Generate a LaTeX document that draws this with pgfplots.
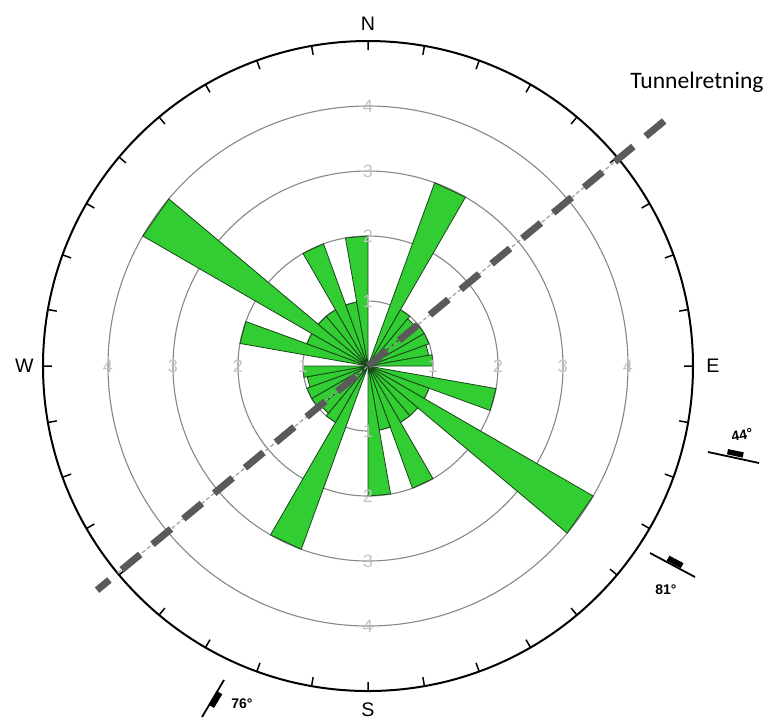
\documentclass[border=0pt]{standalone}
\usepackage{pgfplots}
\pgfplotsset{compat=1.18}
\usepgfplotslibrary{polar}
\usepackage{fontspec}
\setmainfont{Liberation Sans}
\newfontfamily\calib{Carlito}

\definecolor{petal}{RGB}{50,205,50}
\definecolor{petaledge}{RGB}{25,70,25}
\definecolor{ringgray}{RGB}{135,135,135}
\definecolor{ringlabel}{RGB}{195,195,195}
\definecolor{tunnel}{RGB}{90,90,90}

% one petal of the rose: angles are mathematical (ccw from east), radius = count
\newcommand{\petal}[3]{\addplot[fill=petal, draw=petaledge, line width=0.4pt]
  coordinates {(0,0) (#1,#3) (#2,#3)} -- cycle;}
\newcommand{\rl}[2]{\node[ringlabel, font=\fontsize{9}{10}\selectfont, inner sep=0pt] at (axis cs:#1,#2) {#2};}

\begin{document}
\begin{tikzpicture}[x=1pt,y=1pt]
\begin{polaraxis}[
  at={(0,0)}, anchor=center,
  scale only axis, width=325pt, height=325pt,
  ymin=0, ymax=5,
  xtick={0,10,...,350}, xticklabels={},
  ytick={1,2,3,4}, yticklabels={},
  xmajorgrids=false, ymajorgrids=true,
  y grid style={ringgray, line width=0.55pt},
  axis line style={black, line width=1pt},
  y axis line style={draw=none},
  tick align=outside, major tick length=4.5pt,
  x tick style={black, line width=0.75pt},
  y tick style={draw=none},
  clip=false,
]
% directions in compass degrees c..c+10 become 90-c .. 80-c
% NE - SW
\petal{70}{60}{3.0}
\petal{60}{50}{1.0}
\petal{50}{40}{0.95}
\petal{40}{30}{1.0}
\petal{30}{20}{1.0}
\petal{20}{10}{0.95}
\petal{10}{0}{1.0}
% ESE - S
\petal{-10}{-20}{2.0}
\petal{-20}{-30}{1.0}
\petal{-30}{-40}{4.0}
\petal{-40}{-50}{1.0}
\petal{-50}{-60}{1.0}
\petal{-60}{-70}{2.0}
\petal{-70}{-80}{1.0}
\petal{-80}{-90}{2.0}
% SSW - W
\petal{-110}{-120}{3.0}
\petal{-120}{-130}{1.0}
\petal{-130}{-140}{0.95}
\petal{-140}{-150}{1.0}
\petal{-150}{-160}{1.0}
\petal{-160}{-170}{0.95}
\petal{-170}{-180}{1.0}
% WNW - N
\petal{-190}{-200}{2.0}
\petal{-200}{-210}{1.0}
\petal{-210}{-220}{4.0}
\petal{-220}{-230}{1.0}
\petal{-230}{-240}{1.0}
\petal{-240}{-250}{2.0}
\petal{-250}{-260}{1.0}
\petal{-260}{-270}{2.0}

% tunnel direction (N50E)
\addplot[ringgray!80, line width=0.6pt, dash pattern=on 2pt off 1.2pt]
  coordinates {(219.6,5) (0,0) (39.6,5)};
\addplot[tunnel, line width=3.5pt, dash pattern=on 12pt off 8pt, dash phase=4pt]
  coordinates {(219.6,5.41) (0,0) (39.6,5.99)};

% ring labels
\rl{0}{1}\rl{0}{2}\rl{0}{3}\rl{0}{4}
\rl{90}{1}\rl{90}{2}\rl{90}{3}\rl{90}{4}
\rl{180}{1}\rl{180}{2}\rl{180}{3}\rl{180}{4}
\rl{270}{1}\rl{270}{2}\rl{270}{3}\rl{270}{4}
% compass labels
\node[font=\fontsize{9.8}{11}\selectfont, anchor=south, inner sep=0pt, yshift=5pt] at (axis cs:90,5) {N};
\node[font=\fontsize{9.8}{11}\selectfont, anchor=north, inner sep=0pt, yshift=-5.5pt] at (axis cs:270,5) {S};
\node[font=\fontsize{9.8}{11}\selectfont, anchor=west, inner sep=0pt, xshift=6.5pt] at (axis cs:0,5) {E};
\node[font=\fontsize{9.8}{11}\selectfont, anchor=east, inner sep=0pt, xshift=-4.5pt] at (axis cs:180,5) {W};
\end{polaraxis}

% label of the tunnel line
\node[font=\calib\fontsize{11.8}{13}\selectfont, anchor=base west, inner sep=0pt] at (131,139) {Tunnelretning};

% strike/dip symbols
\begin{scope}[line width=0.9pt]
  \draw (170,-43) -- (195.5,-48.5);
  \fill[rotate around={-12:(183.5,-44.5)}] (179.5,-45) rectangle (187.5,-42.3);
  \node[font=\bfseries\fontsize{7}{8}\selectfont, rotate=10, inner sep=0pt] at (187,-34.5) {44°};

  \draw (141,-93.5) -- (163.5,-105.5);
  \fill[rotate around={-28:(153,-99)}] (149,-99.3) rectangle (157,-96.4);
  \node[font=\bfseries\fontsize{7}{8}\selectfont, inner sep=0pt] at (149,-112) {81°};

  \draw (-83,-175.5) -- (-72,-157);
  \fill[rotate around={59:(-77.5,-166)}] (-81.5,-166.2) rectangle (-73.5,-169);
  \node[font=\bfseries\fontsize{7}{8}\selectfont, inner sep=0pt] at (-63,-169) {76°};
\end{scope}

\pgfresetboundingbox
\path[use as bounding box] (-184,-177) rectangle (200.5,183);
\end{tikzpicture}
\end{document}
